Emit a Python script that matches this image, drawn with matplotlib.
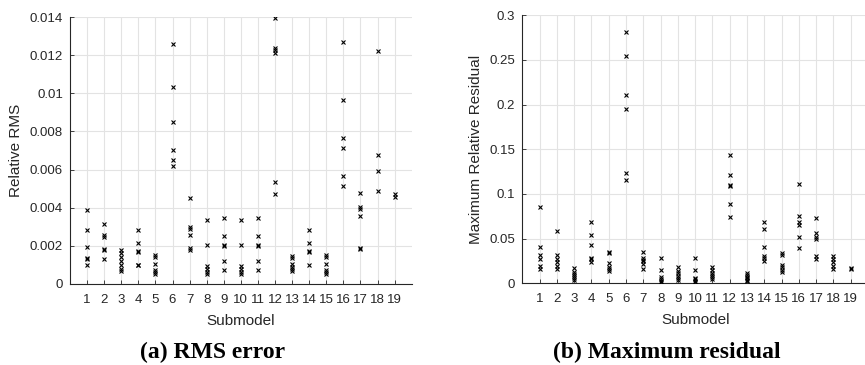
import matplotlib
matplotlib.use("Agg")
import matplotlib.pyplot as plt

submodels = list(range(1, 20))

rms = {
    1: [0.0039, 0.00285, 0.00195, 0.00137, 0.0013, 0.001],
    2: [0.00312, 0.00256, 0.00244, 0.00186, 0.0018, 0.00133],
    3: [0.0018, 0.0016, 0.0014, 0.0012, 0.001, 0.0008, 0.0007],
    4: [0.00282, 0.00214, 0.00175, 0.0017, 0.00102, 0.001],
    5: [0.0015, 0.00142, 0.00107, 0.00075, 0.00063, 0.0005],
    6: [0.01259, 0.01034, 0.00848, 0.00703, 0.0065, 0.00617],
    7: [0.00452, 0.003, 0.00286, 0.00259, 0.00189, 0.0018],
    8: [0.00333, 0.00207, 0.00095, 0.0008, 0.00063, 0.0005],
    9: [0.00344, 0.00254, 0.00205, 0.00198, 0.00119, 0.00072],
    10: [0.00335, 0.00205, 0.00093, 0.00079, 0.00061, 0.0005],
    11: [0.00344, 0.00254, 0.00205, 0.00198, 0.00119, 0.00072],
    12: [0.01396, 0.01237, 0.01225, 0.0121, 0.00533, 0.00474],
    13: [0.00147, 0.00137, 0.00105, 0.00088, 0.00077, 0.00067],
    14: [0.00281, 0.00216, 0.00175, 0.00167, 0.00102],
    15: [0.0015, 0.00142, 0.00107, 0.00075, 0.00063, 0.0005],
    16: [0.01268, 0.00963, 0.00763, 0.00714, 0.00565, 0.00516],
    17: [0.00479, 0.00404, 0.00395, 0.00358, 0.00189, 0.00182],
    18: [0.01223, 0.00675, 0.00591, 0.00489],
    19: [0.00474, 0.00456],
}

maxres = {
    1: [0.0851, 0.041, 0.0317, 0.0269, 0.0198, 0.0164],
    2: [0.0586, 0.0317, 0.0272, 0.0243, 0.0198, 0.0164],
    3: [0.0168, 0.013, 0.0104, 0.0078, 0.0056, 0.0037],
    4: [0.0683, 0.0541, 0.0425, 0.0287, 0.0269, 0.0239],
    5: [0.0347, 0.0336, 0.0224, 0.0187, 0.0164, 0.0134],
    6: [0.281, 0.2545, 0.2108, 0.1948, 0.1239, 0.116],
    7: [0.0349, 0.028, 0.0262, 0.0245, 0.0218, 0.0156],
    8: [0.0284, 0.0149, 0.0067, 0.0045, 0.003, 0.0019],
    9: [0.0179, 0.0142, 0.0112, 0.0082, 0.006, 0.0037],
    10: [0.0284, 0.0149, 0.006, 0.0045, 0.003, 0.0019],
    11: [0.0179, 0.0149, 0.0116, 0.009, 0.0067, 0.0045],
    12: [0.1437, 0.1213, 0.1101, 0.1086, 0.0888, 0.0739],
    13: [0.0112, 0.0093, 0.0075, 0.0056, 0.0037, 0.0022],
    14: [0.069, 0.0604, 0.041, 0.031, 0.0284, 0.0254],
    15: [0.0336, 0.0321, 0.0205, 0.0179, 0.0149, 0.0127],
    16: [0.1112, 0.0757, 0.0683, 0.0657, 0.0519, 0.0396],
    17: [0.0728, 0.0563, 0.0522, 0.0493, 0.031, 0.0272],
    18: [0.0306, 0.0272, 0.0235, 0.0198, 0.016],
    19: [0.0168, 0.0157],
}

rms_yticks = [0, 0.002, 0.004, 0.006, 0.008, 0.01, 0.012, 0.014]
rms_yticklabels = ["0", "0.002", "0.004", "0.006", "0.008", "0.01", "0.012", "0.014"]
res_yticks = [0, 0.05, 0.1, 0.15, 0.2, 0.25, 0.3]
res_yticklabels = ["0", "0.05", "0.1", "0.15", "0.2", "0.25", "0.3"]

plt.rcParams['font.family'] = ['Liberation Sans', 'DejaVu Sans']

fig = plt.figure(figsize=(8.65, 3.65), dpi=100)
W, H = 865, 365

def make_axes(l, r, t, b):
    return fig.add_axes([l / W, (H - b) / H, (r - l) / W, (b - t) / H])

ax1 = make_axes(70, 411.7, 17, 284)
ax2 = make_axes(522.3, 868, 15.3, 283.3)

def style(ax, data, yticks, ylabels, ymax, ylabel):
    for k in submodels:
        vals = data[k]
        ax.plot([k] * len(vals), vals, linestyle='none', marker='x',
                color='black', markersize=3.5, markeredgewidth=0.8, zorder=3)
    ax.set_xlim(0, 20)
    ax.set_ylim(0, ymax)
    ax.set_xticks(submodels)
    ax.set_xticklabels([str(s) for s in submodels])
    ax.set_yticks(yticks)
    ax.set_yticklabels(ylabels)
    ax.grid(True, color='#e3e3e3', linewidth=0.8, zorder=0)
    ax.set_axisbelow(True)
    for s in ['top', 'right']:
        ax.spines[s].set_visible(False)
    for s in ['left', 'bottom']:
        ax.spines[s].set_color('#262626')
        ax.spines[s].set_linewidth(0.8)
    ax.tick_params(direction='in', length=3, width=0.6, color='#262626',
                   labelsize=9.5, labelcolor='#262626', pad=5)
    ax.tick_params(axis='x', pad=7)
    ax.set_xlabel('Submodel', fontsize=11, color='#262626', labelpad=6)
    ax.set_ylabel(ylabel, fontsize=11, color='#262626', labelpad=5)

style(ax1, rms, rms_yticks, rms_yticklabels, 0.014, 'Relative RMS')
style(ax2, maxres, res_yticks, res_yticklabels, 0.3, 'Maximum Relative Residual')

fig.text(213 / W, 1 - 352 / H, '(a) RMS error', ha='center', va='center',
         fontsize=17, fontweight='bold', family='Liberation Serif')
fig.text(667 / W, 1 - 352 / H, '(b) Maximum residual', ha='center', va='center',
         fontsize=17, fontweight='bold', family='Liberation Serif')

fig.savefig('out.png', dpi=100)
